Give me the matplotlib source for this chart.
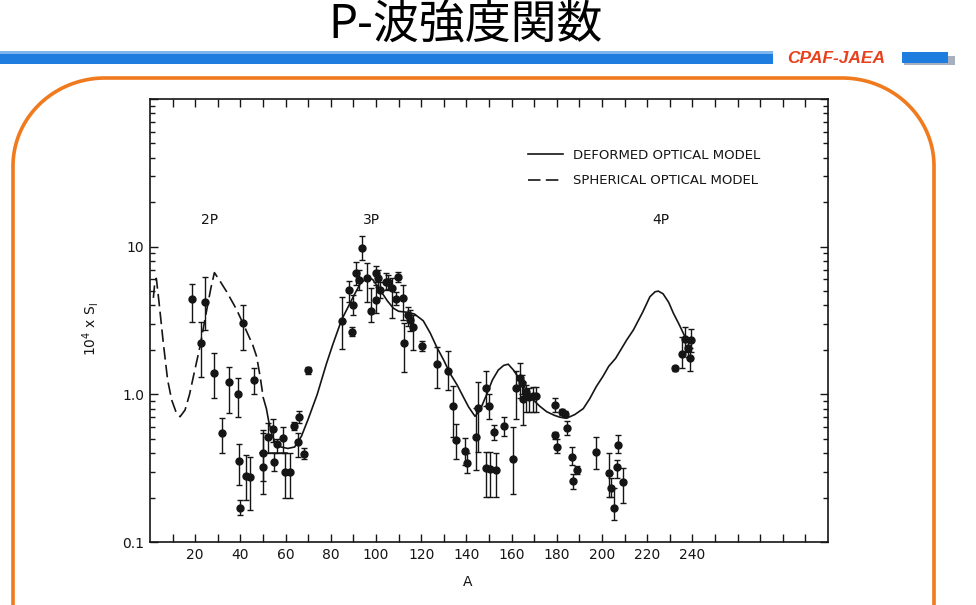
import numpy as np
import matplotlib
matplotlib.use("Agg")
import matplotlib.pyplot as plt
from matplotlib.lines import Line2D
from matplotlib.patches import Rectangle, PathPatch
from matplotlib.path import Path
from matplotlib.ticker import LogLocator, NullFormatter

# ---------------- data ----------------
title_text = "P-波強度関数"
brand_text = "CPAF-JAEA"

# measured strength functions: A, S, lower end, upper end of error bar
A_pts = [18.4, 22.6, 24.3, 28.4, 31.7, 35.0, 38.8, 39.5, 39.8, 41.3, 42.5, 44.2, 45.9,
         50.0, 50.0, 52.1, 54.3, 55.0, 56.3, 58.7, 59.7, 61.9, 63.7, 65.3, 66.1, 68.1, 70.0,
         84.8, 88.2, 89.2, 90.0, 91.2, 92.5, 93.7, 96.2, 97.8, 100.0, 100.0, 100.7, 101.8,
         104.3, 105.4, 106.9, 108.8, 109.9, 112.1, 112.4, 114.3, 115.0, 116.2, 120.2,
         127.2, 132.0, 133.9, 135.3, 139.4, 140.4, 144.2, 145.3, 148.5, 148.7, 150.1, 150.4,
         152.2, 153.1, 156.8, 160.5, 161.8, 163.7, 164.5, 165.2, 166.4, 167.7, 169.3, 170.7,
         179.2, 179.2, 180.2, 182.2, 183.6, 184.4, 186.6, 187.0, 188.8, 197.3, 203.1, 204.0,
         205.3, 206.8, 207.2, 209.3,
         232.3, 235.5, 236.7, 238.2, 238.9, 239.4]
S_pts = [4.4, 2.22, 4.24, 1.40, 0.544, 1.21, 1.01, 0.353, 0.169, 3.03, 0.279, 0.274, 1.26,
         0.40, 0.32, 0.516, 0.579, 0.349, 0.458, 0.508, 0.299, 0.299, 0.61, 0.477, 0.698, 0.392, 1.46,
         3.15, 5.09, 2.66, 4.03, 6.61, 5.95, 9.75, 6.11, 3.68, 6.61, 4.35, 6.11, 5.09,
         5.79, 5.79, 5.23, 4.4, 6.26, 4.47, 2.22, 3.44, 3.19, 2.84, 2.12,
         1.60, 1.45, 0.833, 0.49, 0.413, 0.344, 0.511, 0.811, 1.11, 0.315, 0.833, 0.31,
         0.558, 0.307, 0.612, 0.363, 1.11, 1.30, 1.19, 0.929, 1.04, 0.963, 0.97, 0.97,
         0.846, 0.53, 0.442, 0.762, 0.735, 0.594, 0.378, 0.259, 0.307, 0.408, 0.294, 0.233,
         0.169, 0.323, 0.454, 0.256,
         1.50, 1.88, 2.36, 2.05, 1.75, 2.33]
S_lo = [3.1, 1.32, 2.73, 0.94, 0.398, 0.75, 0.70, 0.243, 0.152, 2.0, 0.194, 0.164, 1.0,
        0.26, 0.21, 0.402, 0.478, 0.303, 0.402, 0.402, 0.20, 0.20, 0.573, 0.378, 0.636, 0.363, 1.38,
        2.03, 4.24, 2.48, 3.44, 5.5, 5.1, 8.13, 4.24, 3.1, 5.79, 3.54, 5.3, 4.5,
        5.09, 5.2, 3.27, 4.0, 5.79, 3.2, 1.42, 2.9, 2.7, 2.0, 1.98,
        1.10, 1.07, 0.516, 0.363, 0.332, 0.292, 0.307, 0.408, 0.833, 0.202, 0.677, 0.202,
        0.49, 0.202, 0.52, 0.213, 0.68, 0.95, 1.0, 0.62, 0.76, 0.76, 0.76, 0.76,
        0.76, 0.50, 0.40, 0.72, 0.70, 0.53, 0.332, 0.23, 0.29, 0.31, 0.202, 0.202,
        0.141, 0.27, 0.40, 0.183,
        1.44, 1.50, 1.95, 1.80, 1.45, 1.95]
S_hi = [5.6, 3.1, 6.26, 1.90, 0.687, 1.52, 1.29, 0.458, 0.192, 4.03, 0.388, 0.378, 1.50,
        0.57, 0.55, 0.636, 0.68, 0.402, 0.50, 0.603, 0.402, 0.402, 0.652, 0.544, 0.774, 0.435, 1.54,
        4.58, 5.86, 2.85, 4.71, 7.91, 6.95, 11.9, 7.72, 5.23, 7.4, 5.5, 6.9, 5.8,
        6.61, 6.4, 6.1, 4.9, 6.71, 5.5, 3.03, 3.92, 3.7, 3.44, 2.3,
        2.10, 1.98, 1.13, 0.63, 0.508, 0.40, 0.804, 1.22, 1.45, 0.408, 1.0, 0.408,
        0.62, 0.40, 0.70, 0.60, 1.45, 1.62, 1.35, 1.22, 1.16, 1.10, 1.12, 1.12,
        0.94, 0.56, 0.50, 0.80, 0.77, 0.66, 0.442, 0.29, 0.325, 0.511, 0.40, 0.27,
        0.231, 0.36, 0.53, 0.315,
        1.56, 2.46, 2.85, 2.25, 2.05, 2.75]

# spherical optical model (dashed)
sph_A = [1.5, 2.2, 2.8, 4.0, 5.9, 7.8, 9.6, 11.5, 13.3, 15.5, 17.5, 19.2, 22.1, 25.1,
         27.0, 28.5, 30.5, 33.9, 38.4, 42.8, 45.5, 47.2, 48.8, 50.1]
sph_S = [4.5, 5.9, 6.1, 4.2, 2.22, 1.25, 0.915, 0.76, 0.705, 0.783, 1.0, 1.32, 2.10, 3.73,
         5.3, 6.67, 6.0, 4.96, 3.73, 2.66, 2.15, 1.80, 1.30, 0.95]

# deformed optical model (solid)
def_A = [50.1, 51.5, 52.5, 54.0, 55.5, 58.0, 61.0, 64.0, 67.0, 70.0, 74.0, 78.0, 81.0,
         84.8, 90.0, 93.0, 96.2, 98.5, 101.8, 105.0, 107.7, 110.0, 113.6, 117.0, 120.9,
         124.0, 126.8, 130.0, 132.7, 136.0, 138.6, 141.0, 143.8, 146.0, 149.0, 151.5,
         154.1, 156.5, 158.5, 161.0, 163.7, 166.5, 169.6, 172.5, 175.5, 179.0, 181.4,
         184.4, 188.0, 191.7, 194.5, 197.5, 200.5, 203.0, 206.0, 210.9, 213.9, 218.0,
         221.2, 223.5, 224.9, 227.0, 229.5, 231.6, 234.0, 236.0, 237.0]
def_S = [0.95, 0.80, 0.66, 0.53, 0.47, 0.44, 0.43, 0.44, 0.52, 0.68, 1.0, 1.6, 2.2,
         3.2, 4.6, 5.6, 6.2, 6.0, 5.1, 4.3, 3.83, 3.65, 3.6, 3.5, 3.15,
         2.6, 2.1, 1.7, 1.39, 1.15, 0.963, 0.82, 0.71, 0.78, 1.0, 1.25,
         1.46, 1.57, 1.60, 1.45, 1.25, 1.07, 0.915, 0.83, 0.763, 0.72, 0.70,
         0.69, 0.73, 0.80, 0.93, 1.13, 1.33, 1.55, 1.75, 2.33, 2.73, 3.6,
         4.58, 4.95, 5.0, 4.8, 4.2, 3.54, 3.0, 2.59, 2.4]

# short flat segment under the A~50-60 points
flat_A = [48.7, 60.5]
flat_S = [0.40, 0.40]

shell_labels = ["2P", "3P", "4P"]
shell_A = [26.5, 97.8, 226.0]
shell_S = [15.2, 15.2, 15.2]

legend_labels = ["DEFORMED OPTICAL MODEL", "SPHERICAL OPTICAL MODEL"]

x_ticks = list(range(10, 300, 10))
x_tick_labels = [str(t) if (t % 20 == 0 and t <= 240) else "" for t in x_ticks]
y_ticks = [0.1, 1.0, 10.0, 100.0]
y_tick_labels = ["0.1", "1.0", "10", ""]

# ---------------- figure ----------------
W, H = 976, 605
fig = plt.figure(figsize=(W / 100, H / 100), dpi=100)
fig.patch.set_facecolor("white")

bg = fig.add_axes([0, 0, 1, 1])
bg.set_xlim(0, W)
bg.set_ylim(H, 0)
bg.axis("off")

# title
bg.text(466, 25, title_text, ha="center", va="center", fontsize=33,
        family=["Noto Sans CJK JP", "DejaVu Sans"], color="black")

# blue header bar
bg.add_patch(Rectangle((0, 51), 773, 13, color="#1f7ddf", lw=0))
bg.add_patch(Rectangle((0, 51), 773, 3, color="#7fb6ee", lw=0))
bg.add_patch(Rectangle((904, 56), 51, 9, color="#a8b0c0", lw=0))
bg.add_patch(Rectangle((902, 52), 46, 11, color="#1f7ddf", lw=0))
bg.text(836, 58.5, brand_text, ha="center", va="center", fontsize=12.5,
        fontweight="bold", fontstyle="italic", family="Liberation Sans", color="#e8401c")

# orange rounded frame
L, R, T, B = 13, 934, 78, 720
rx, ry = 92, 88
t = np.linspace(0, np.pi / 2, 40)
verts = [(L, B)]
verts += [(L + rx - rx * np.cos(a), T + ry - ry * np.sin(a)) for a in t]
verts += [(R - rx + rx * np.sin(a), T + ry - ry * np.cos(a)) for a in t]
verts += [(R, B)]
bg.add_patch(PathPatch(Path(verts), fill=False, edgecolor="#f07a1e", lw=2.6))

# ---------------- main chart ----------------
ax_l, ax_r, ax_t, ax_b = 150, 828, 99, 542
ax = fig.add_axes([ax_l / W, 1 - ax_b / H, (ax_r - ax_l) / W, (ax_b - ax_t) / H])
ax.set_yscale("log")
ax.set_xlim(0, 300)
ax.set_ylim(0.1, 100)

ink = "#151515"
dash = (7.5, 3.2)
A_arr = np.array(A_pts)
S_arr = np.array(S_pts)
yerr = np.vstack([S_arr - np.array(S_lo), np.array(S_hi) - S_arr])
ax.errorbar(A_arr, S_arr, yerr=yerr, fmt="o", color=ink, ms=5, elinewidth=1.0,
            capsize=2.3, capthick=1.0, zorder=3)

ax.plot(sph_A, sph_S, color=ink, lw=1.2, dashes=dash)
ax.plot(def_A, def_S, color=ink, lw=1.2, solid_capstyle="round")
ax.plot(flat_A, flat_S, color=ink, lw=1.1)

for lab, xa, ya in zip(shell_labels, shell_A, shell_S):
    ax.text(xa, ya, lab, ha="center", va="center", fontsize=10, color=ink)

handles = [Line2D([], [], color=ink, lw=1.2),
           Line2D([], [], color=ink, lw=1.2, dashes=dash)]
ax.legend(handles, legend_labels, loc="center left", bbox_to_anchor=(0.540, 0.844),
          frameon=False, fontsize=9.5, handlelength=2.65, handletextpad=0.75,
          labelspacing=0.95, borderpad=0.4, labelcolor=ink)

ax.set_xticks(x_ticks)
ax.set_xticklabels(x_tick_labels)
ax.set_yticks(y_ticks)
ax.set_yticklabels(y_tick_labels)
ax.yaxis.set_minor_locator(LogLocator(base=10, subs=np.arange(2, 10)))
ax.yaxis.set_minor_formatter(NullFormatter())
ax.tick_params(which="both", direction="in", top=True, right=True, colors=ink,
               labelsize=10, width=1.0)
ax.tick_params(which="major", length=5.5, pad=4)
ax.tick_params(which="minor", length=3.5)
for sp in ax.spines.values():
    sp.set_linewidth(1.2)
    sp.set_color(ink)

ax.set_xlabel("A", fontsize=10, color=ink)
ax.xaxis.set_label_coords(0.468, -0.075)
ax.set_ylabel(r"$\mathregular{10^4}$ x S$_\mathregular{l}$", fontsize=10, color=ink)
ax.yaxis.set_label_coords(-0.072, 0.48)

fig.savefig("out.png", dpi=100)
